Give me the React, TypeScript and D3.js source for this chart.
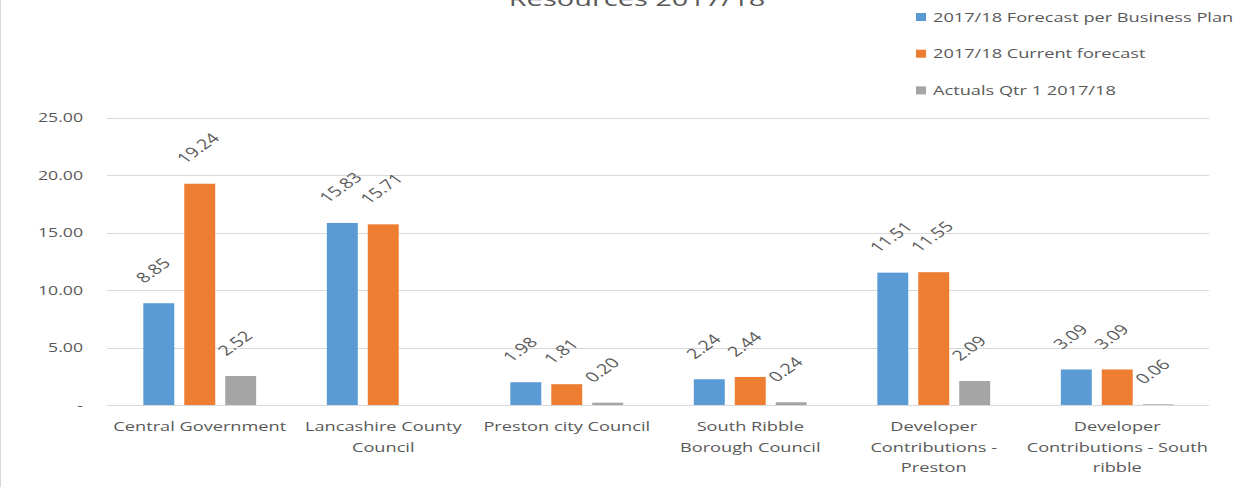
import React from "react";
import * as d3 from "d3";

const title = "Resources 2017/18";
const categories: string[][] = [
  ["Central Government"],
  ["Lancashire County", "Council"],
  ["Preston city Council"],
  ["South Ribble", "Borough Council"],
  ["Developer", "Contributions -", "Preston"],
  ["Developer", "Contributions - South", "ribble"],
];
const seriesNames = [
  "2017/18 Forecast per Business Plan",
  "2017/18 Current forecast",
  "Actuals Qtr 1 2017/18",
];
const forecastPlan = [8.85, 15.83, 1.98, 2.24, 11.51, 3.09];
const currentForecast = [19.24, 15.71, 1.81, 2.44, 11.55, 3.09];
const actualsQ1: (number | null)[] = [2.52, null, 0.2, 0.24, 2.09, 0.06];
const yTicks = [0, 5, 10, 15, 20, 25];
const yTickLabels = ["-", "5.00", "10.00", "15.00", "20.00", "25.00"];
const colors = ["#5B9BD5", "#ED7D31", "#A5A5A5"];

const W = 1252;
const H = 487;
const TEXT = "#595959";
const GRID = "#D9D9D9";
const FONT = "'Open Sans', sans-serif";

export default function App() {
  const series = [forecastPlan, currentForecast, actualsQ1];
  const catKeys = categories.map((c) => c.join(" "));
  const x0 = d3
    .scaleBand<string>()
    .domain(catKeys)
    .range([108, 1209])
    .paddingInner(0.385)
    .paddingOuter(0.1925);
  const x1 = d3
    .scaleBand<string>()
    .domain(seriesNames)
    .range([0, x0.bandwidth()])
    .paddingInner(0.244);
  const y = d3.scaleLinear().domain([0, 25]).range([405, 117.5]);

  const K_AX = 1.36;
  const K_CAT = 1.4;
  const K_LEG = 1.4;
  const K_LBL = 1.4;

  return (
    <svg
      width={W}
      height={H}
      style={{ position: "absolute", left: 0, top: 0, background: "#fff" }}
      fontFamily={FONT}
    >
      <rect x={0} y={0} width={W} height={H} fill="#fff" />
      <line x1={0.5} x2={0.5} y1={0} y2={H} stroke={GRID} />
      {/* title */}
      <text
        transform={`translate(637,6) scale(1.45,1)`}
        textAnchor="middle"
        fontSize={20}
        fill={TEXT}
      >
        {title}
      </text>
      {/* gridlines */}
      {yTicks.map((t, i) => (
        <g key={t}>
          <line
            x1={107}
            x2={1209}
            y1={Math.round(y(t)) + 0.5}
            y2={Math.round(y(t)) + 0.5}
            stroke={GRID}
            strokeWidth={1}
          />
          <text
            transform={`translate(83,${y(t) + 4.5}) scale(${K_AX},1)`}
            textAnchor="end"
            fontSize={13}
            fill={TEXT}
          >
            {yTickLabels[i]}
          </text>
        </g>
      ))}
      {/* bars */}
      {catKeys.map((ck, ci) => (
        <g key={ck} transform={`translate(${x0(ck)},0)`}>
          {series.map((s, si) => {
            const v = s[ci];
            if (v === null || v === undefined) return null;
            const bx = x1(seriesNames[si])!;
            const top = y(v);
            const cx = bx + x1.bandwidth() / 2;
            return (
              <g key={si}>
                <rect
                  x={bx}
                  y={top}
                  width={x1.bandwidth()}
                  height={y(0) - top}
                  fill={colors[si]}
                />
                <text
                  transform={`translate(${cx - 14.5},${top - 19.5}) scale(${K_LBL},1) rotate(-45)`}
                  fontSize={14}
                  fill={TEXT}
                >
                  {v.toFixed(2)}
                </text>
              </g>
            );
          })}
        </g>
      ))}
      {/* category labels */}
      {categories.map((lines, ci) => {
        const cx = x0(catKeys[ci])! + x0.bandwidth() / 2;
        return lines.map((ln, li) => (
          <text
            key={ci + "-" + li}
            transform={`translate(${cx},${431 + li * 20.7}) scale(${K_CAT},1)`}
            textAnchor="middle"
            fontSize={13}
            fill={TEXT}
          >
            {ln}
          </text>
        ));
      })}
      {/* legend */}
      {seriesNames.map((n, i) => {
        const ly = 17 + i * 36.7;
        return (
          <g key={n}>
            <rect x={916} y={ly - 4} width={10} height={8} fill={colors[i]} />
            <text
              transform={`translate(933,${ly + 4.5}) scale(${K_LEG},1)`}
              fontSize={13}
              fill={TEXT}
            >
              {n}
            </text>
          </g>
        );
      })}
    </svg>
  );
}
